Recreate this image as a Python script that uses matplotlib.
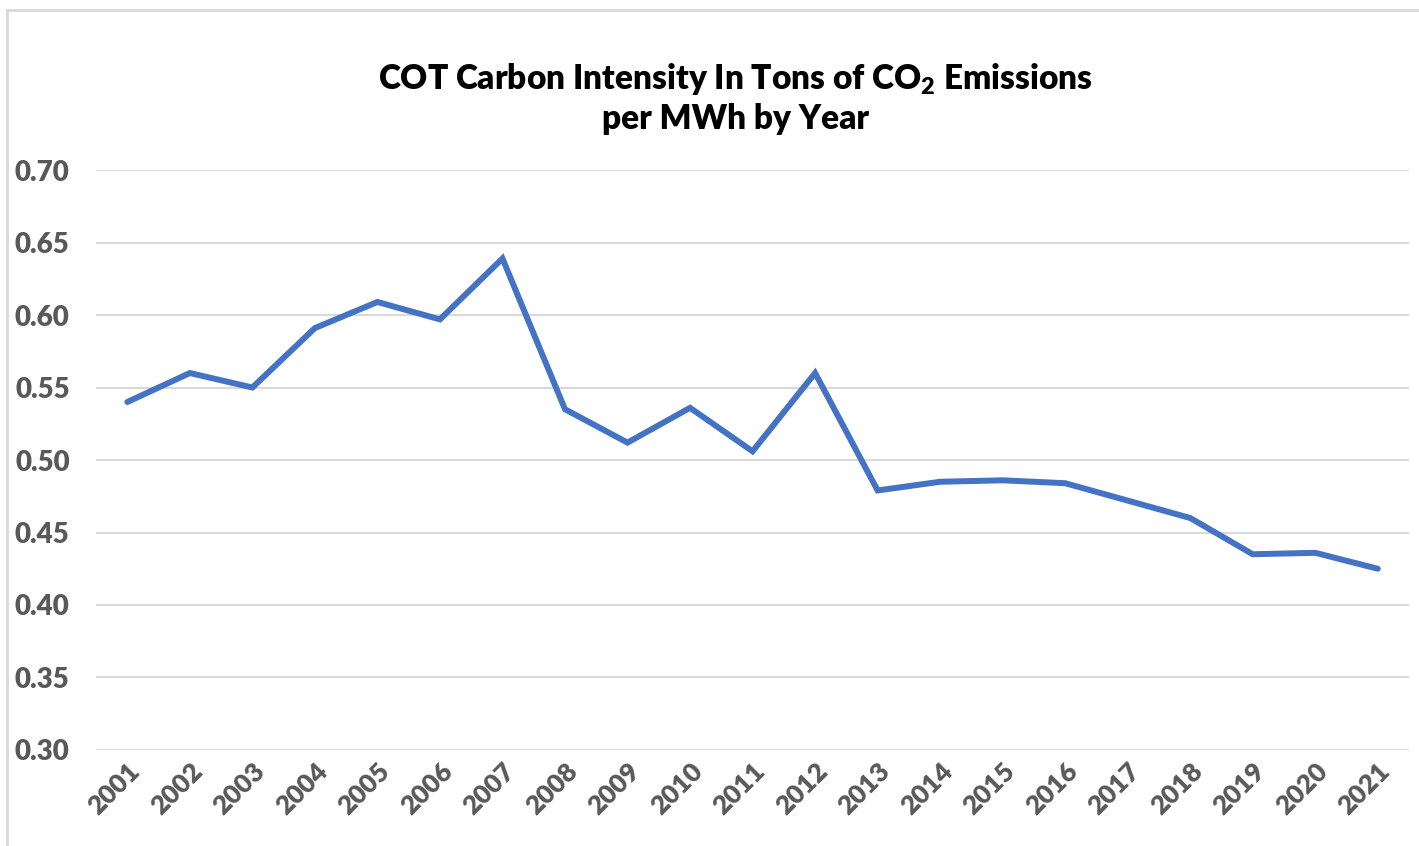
import matplotlib.pyplot as plt
from matplotlib.patches import Rectangle

plt.rcParams['font.family'] = ['Lato', 'DejaVu Sans']
plt.rcParams['mathtext.default'] = 'regular'

years = ['2001', '2002', '2003', '2004', '2005', '2006', '2007', '2008', '2009', '2010', '2011',
         '2012', '2013', '2014', '2015', '2016', '2017', '2018', '2019', '2020', '2021']
intensity = [0.540, 0.560, 0.550, 0.591, 0.609, 0.597, 0.639, 0.535, 0.512, 0.536, 0.506,
             0.560, 0.479, 0.485, 0.486, 0.484, 0.472, 0.460, 0.435, 0.436, 0.425]
y_ticks = [0.30, 0.35, 0.40, 0.45, 0.50, 0.55, 0.60, 0.65, 0.70]

fig = plt.figure(figsize=(14.19, 8.46), dpi=100)
ax = fig.add_axes([0.0677, 0.1135, 0.9253, 0.6855])

x = list(range(len(years)))
ax.plot(x, intensity, '-', color='#4472c4', lw=4.3, solid_capstyle='round', solid_joinstyle='miter', zorder=3)

ax.set_xlim(-0.5, len(years) - 0.5)
ax.set_ylim(0.30, 0.70)
ax.set_yticks(y_ticks)
ax.set_yticklabels(['%.2f' % v for v in y_ticks], fontsize=20, fontweight='heavy', color='#595959')
ax.set_xticks(x)
ax.set_xticklabels(years, fontsize=19, fontweight='heavy', color='#595959',
                   rotation=45, ha='right', rotation_mode='anchor')

for s in ax.spines.values():
    s.set_visible(False)
ax.tick_params(axis='both', length=0)
ax.tick_params(axis='y', pad=19)
ax.tick_params(axis='x', pad=6)
ax.yaxis.grid(True, color='#d9d9d9', lw=1.5)
ax.set_axisbelow(True)

fig.text(0.518, 0.884, 'COT Carbon Intensity In Tons of CO$_{2}$ Emissions\nper MWh by Year',
         ha='center', va='center', fontsize=24, fontweight='heavy', color='black', linespacing=1.25)

# outer chart border like the spreadsheet frame
fig.patches.append(Rectangle((7 / 1419, -0.1), 1.2, 0.1 + (846 - 10) / 846,
                             transform=fig.transFigure, fill=False, edgecolor='#d9d9d9', lw=2))

plt.savefig('out.png', dpi=100)
